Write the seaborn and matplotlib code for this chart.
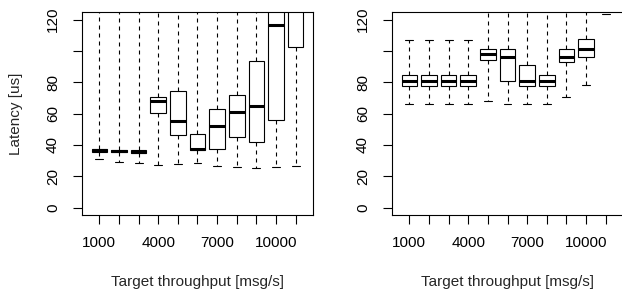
import numpy as np
import pandas as pd
import matplotlib
matplotlib.use("Agg")
import matplotlib.pyplot as plt
import seaborn as sns

# ---------------- data ----------------
throughput = [1000, 2000, 3000, 4000, 5000, 6000, 7000, 8000, 9000, 10000, 11000]
x_tick_labels = ["1000", "", "", "4000", "", "", "7000", "", "", "10000", ""]
y_ticks = [0, 20, 40, 60, 80, 100, 120]
y_tick_labels = ["0", "20", "40", "60", "80", "", "120"]

# left panel: lower whisker, Q1, median, Q3, upper whisker
left_low = [31.0, 29.3, 28.5, 27.4, 28.0, 28.5, 26.8, 26.1, 25.3, 26.1, 26.6]
left_q1 = [35.8, 35.4, 35.1, 60.1, 46.5, 36.9, 37.2, 45.0, 41.7, 55.7, 102.2]
left_med = [36.6, 36.1, 35.8, 68.0, 55.4, 37.6, 51.8, 61.1, 64.6, 116.2, 132.0]
left_q3 = [37.3, 36.8, 36.5, 70.7, 74.3, 47.1, 62.9, 72.0, 93.6, 135.0, 140.0]
left_high = [150.0, 150.0, 150.0, 150.0, 150.0, 150.0, 150.0, 150.0, 150.0, 150.0, 160.0]

# right panel
right_low = [65.9, 65.9, 65.9, 65.9, 68.0, 65.9, 65.9, 65.9, 70.3, 78.3, 123.4]
right_q1 = [77.3, 77.3, 77.3, 77.3, 93.9, 80.9, 77.3, 77.3, 92.8, 96.2, 128.0]
right_med = [80.9, 80.9, 80.9, 80.9, 97.7, 95.8, 80.9, 80.9, 96.4, 101.1, 132.0]
right_q3 = [84.7, 84.7, 84.7, 84.7, 101.5, 101.1, 90.7, 84.7, 100.9, 107.3, 136.0]
right_high = [106.8, 106.8, 106.8, 106.8, 140.0, 140.0, 140.0, 140.0, 140.0, 140.0, 150.0]


def build_frame(low, q1, med, q3, high):
    rows = []
    for cat, a, b, c, d, e in zip(throughput, low, q1, med, q3, high):
        for v in (a, b, c, d, e):
            rows.append({"throughput": str(cat), "latency": v})
    return pd.DataFrame(rows)


left_df = build_frame(left_low, left_q1, left_med, left_q3, left_high)
right_df = build_frame(right_low, right_q1, right_med, right_q3, right_high)

# ---------------- style ----------------
sns.set_theme(style="ticks")
plt.rcParams["font.family"] = ["Liberation Sans", "DejaVu Sans"]
plt.rcParams["axes.linewidth"] = 0.8

W, H = 622, 293
fig = plt.figure(figsize=(W / 100, H / 100), dpi=100)

ax_h = (215.0 - 12.3) / H
ax_b = (H - 215.0) / H
ax_w = 231.6 / W
ax_left = fig.add_axes([81.7 / W, ax_b, ax_w, ax_h])
ax_right = fig.add_axes([391.7 / W, ax_b, ax_w, ax_h])

order = [str(t) for t in throughput]
box_kws = dict(
    x="throughput", y="latency", order=order, whis=(0, 100),
    width=0.8, color="white", linecolor="black", saturation=1,
    linewidth=0.8, fliersize=0,
    medianprops=dict(linewidth=2.2, color="black", solid_capstyle="butt"),
    whiskerprops=dict(linestyle=(0, (3.6, 3.6)), linewidth=0.8, color="black"),
    capprops=dict(linewidth=0.8, color="black"),
)

for ax, df in ((ax_left, left_df), (ax_right, right_df)):
    sns.boxplot(data=df, ax=ax, **box_kws)
    ax.set_xlim(-0.9, 10.9)
    ax.set_ylim(-4.7, 124.6)
    ax.set_xticks(range(len(throughput)))
    ax.set_xticklabels(x_tick_labels)
    ax.set_yticks(y_ticks)
    ax.set_yticklabels(y_tick_labels, rotation=90, va="center")
    ax.tick_params(axis="both", length=6.2, width=0.8, direction="out",
                   labelsize=11, colors="black")
    ax.tick_params(axis="x", pad=8.8)
    ax.tick_params(axis="y", pad=9.5)
    for s in ax.spines.values():
        s.set_visible(True)
        s.set_color("black")
        s.set_linewidth(0.8)
    ax.set_xlabel("Target throughput [msg/s]", fontsize=11, va="center")
    ax.xaxis.set_label_coords(0.5, (215.0 - 281.7) / 202.7)
    ax.set_ylabel("")

ax_left.set_ylabel("Latency [us]", fontsize=11, va="center")
ax_left.yaxis.set_label_coords((16.0 - 81.7) / 231.6, 0.5)

fig.savefig("out.png", dpi=100)
